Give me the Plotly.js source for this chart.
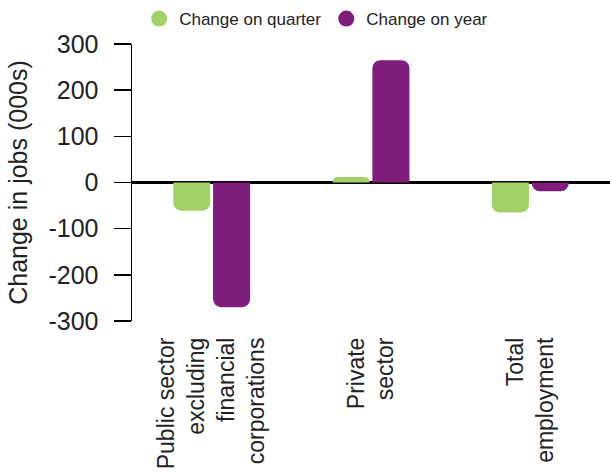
<!DOCTYPE html>
<html>
<head>
<meta charset="utf-8">
<script src="https://cdn.plot.ly/plotly-3.0.1.min.js"></script>
<style>html,body{margin:0;padding:0;background:#fff}#chart{width:610px;height:475px}</style>
</head>
<body>
<div id="chart"></div>
<script>
const categories = ["Public sector<br>excluding<br>financial<br>corporations", "Private<br>sector", "Total<br>employment"];
const changeOnQuarter = [-61, 12, -65];
const changeOnYear = [-270, 265, -19];
const seriesNames = ["Change on quarter", "Change on year"];
const yTicks = [-300, -200, -100, 0, 100, 200, 300];

const green = "#a4d06a";
const purple = "#7f1d7a";

const traces = [
  {type: "bar", x: categories, y: changeOnQuarter, name: seriesNames[0], marker: {color: green, cornerradius: 8}, showlegend: false, hoverinfo: "skip"},
  {type: "bar", x: categories, y: changeOnYear, name: seriesNames[1], marker: {color: purple, cornerradius: 8}, showlegend: false, hoverinfo: "skip"},
  {type: "scatter", mode: "markers", x: [categories[0]], y: [null], name: seriesNames[0], marker: {color: green, size: 18, symbol: "circle"}, showlegend: true},
  {type: "scatter", mode: "markers", x: [categories[0]], y: [null], name: seriesNames[1], marker: {color: purple, size: 18, symbol: "circle"}, showlegend: true}
];

const layout = {
  width: 610, height: 475,
  margin: {l: 132, r: 0, t: 44, b: 154},
  paper_bgcolor: "#fff", plot_bgcolor: "#fff",
  font: {family: "Liberation Sans, Arial, sans-serif", color: "#222"},
  barmode: "group", bargap: 0.5, bargroupgap: 0.07,
  showlegend: true,
  legend: {orientation: "h", x: 0.015, y: 1.09, xanchor: "left", yanchor: "middle",
           font: {family: "Liberation Sans, sans-serif", size: 17, color: "#222"},
           itemwidth: 30, tracegroupgap: 0, bgcolor: "rgba(0,0,0,0)"},
  xaxis: {type: "category", showline: false, ticks: "", showgrid: false, zeroline: false,
          tickangle: -90, tickfont: {size: 23, color: "#222"}, ticklabelstandoff: 11, fixedrange: true},
  yaxis: {range: [-300, 300], tickvals: yTicks, ticktext: yTicks.map(String),
          showline: true, linecolor: "#000", linewidth: 1.5, ticks: "outside", ticklen: 17, tickcolor: "#000", tickwidth: 1.5,
          showgrid: false, zeroline: true, zerolinecolor: "#000", zerolinewidth: 2.5,
          tickfont: {size: 25, color: "#222"}, ticklabelstandoff: 10,
          title: {text: "Change in jobs (000s)", font: {size: 25, color: "#222"}, standoff: 13}, fixedrange: true}
};

Plotly.newPlot("chart", traces, layout, {displayModeBar: false, staticPlot: true});
</script>
</body>
</html>
